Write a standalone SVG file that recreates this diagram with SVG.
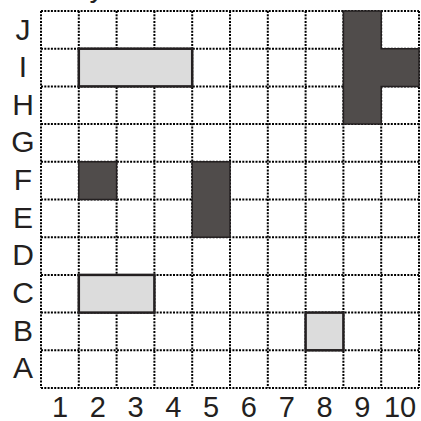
<svg xmlns="http://www.w3.org/2000/svg" width="421" height="421" viewBox="0 0 421 421">
<style>
.grid line{stroke:#000;stroke-width:2;stroke-dasharray:2 1.3}
.lbl{font-family:"Liberation Sans",Arial,sans-serif;font-size:30px;fill:#231f20;text-anchor:middle}
.num{font-size:29px}
.light{fill:#dcdcdc;stroke:#231f20;stroke-width:2.5}
.dark{fill:#504c4b;stroke:#231f20;stroke-width:1.5}
</style>
<rect width="421" height="421" fill="#fff"/>
<text class="lbl" x="97" y="-3">y</text>
<g id="grid" class="grid">
<line x1="41" y1="11" x2="41" y2="388"/>
<line x1="78.8" y1="11" x2="78.8" y2="388"/>
<line x1="116.6" y1="11" x2="116.6" y2="388"/>
<line x1="154.4" y1="11" x2="154.4" y2="388"/>
<line x1="192.2" y1="11" x2="192.2" y2="388"/>
<line x1="230" y1="11" x2="230" y2="388"/>
<line x1="267.8" y1="11" x2="267.8" y2="388"/>
<line x1="305.6" y1="11" x2="305.6" y2="388"/>
<line x1="343.4" y1="11" x2="343.4" y2="388"/>
<line x1="381.2" y1="11" x2="381.2" y2="388"/>
<line x1="419" y1="11" x2="419" y2="388"/>
<line x1="41" y1="11" x2="419" y2="11"/>
<line x1="41" y1="48.7" x2="419" y2="48.7"/>
<line x1="41" y1="86.4" x2="419" y2="86.4"/>
<line x1="41" y1="124.1" x2="419" y2="124.1"/>
<line x1="41" y1="161.8" x2="419" y2="161.8"/>
<line x1="41" y1="199.5" x2="419" y2="199.5"/>
<line x1="41" y1="237.2" x2="419" y2="237.2"/>
<line x1="41" y1="274.9" x2="419" y2="274.9"/>
<line x1="41" y1="312.6" x2="419" y2="312.6"/>
<line x1="41" y1="350.3" x2="419" y2="350.3"/>
<line x1="41" y1="388" x2="419" y2="388"/>
</g>
<g id="shape-I2-I4"><rect class="light" x="78.8" y="48.7" width="113.4" height="37.7"/></g>
<g id="shape-C2-C3"><rect class="light" x="78.8" y="274.9" width="75.6" height="37.7"/></g>
<g id="shape-B8"><rect class="light" x="305.6" y="312.6" width="37.8" height="37.7"/></g>
<g id="shape-F2"><rect class="dark" x="78.8" y="161.8" width="37.8" height="37.7"/></g>
<g id="shape-E5-F5"><rect class="dark" x="192.2" y="161.8" width="37.8" height="75.4"/></g>
<g id="shape-9HJ-I10"><polygon class="dark" points="343.4,11 381.2,11 381.2,48.7 419,48.7 419,86.4 381.2,86.4 381.2,124.1 343.4,124.1"/></g>
<g id="row-labels">
<text class="lbl" x="23" y="40">J</text>
<text class="lbl" x="23" y="77">I</text>
<text class="lbl" x="23" y="114.5">H</text>
<text class="lbl" x="23" y="152">G</text>
<text class="lbl" x="23" y="190">F</text>
<text class="lbl" x="23" y="227.5">E</text>
<text class="lbl" x="23" y="265">D</text>
<text class="lbl" x="23" y="303">C</text>
<text class="lbl" x="23" y="340.5">B</text>
<text class="lbl" x="23" y="378">A</text>
</g>
<g id="col-labels">
<text class="lbl num" x="60" y="417">1</text>
<text class="lbl num" x="97.7" y="417">2</text>
<text class="lbl num" x="135.5" y="417">3</text>
<text class="lbl num" x="173.3" y="417">4</text>
<text class="lbl num" x="211.1" y="417">5</text>
<text class="lbl num" x="248.9" y="417">6</text>
<text class="lbl num" x="286.7" y="417">7</text>
<text class="lbl num" x="324.5" y="417">8</text>
<text class="lbl num" x="362.3" y="417">9</text>
<text class="lbl num" x="400.1" y="417">10</text>
</g>
</svg>
